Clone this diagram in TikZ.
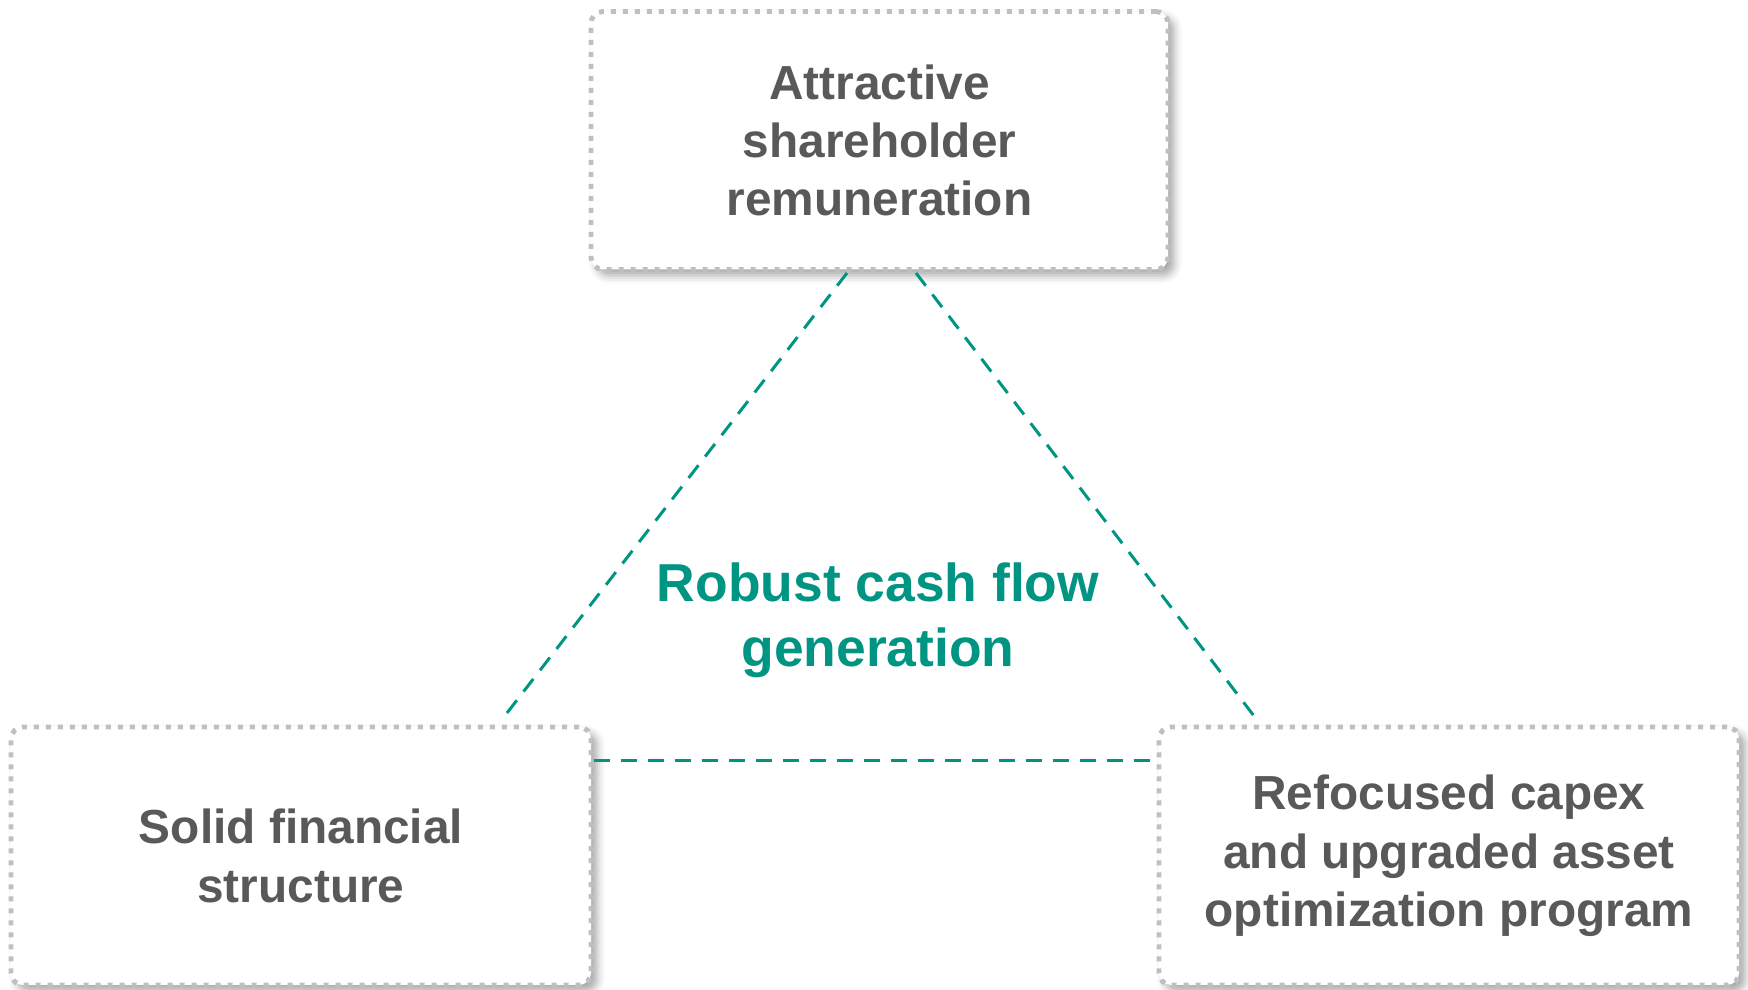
\documentclass[tikz,border=0pt]{standalone}
\usepackage{fontspec}
\setmainfont{Liberation Sans}
\usepackage{tikz}
\usetikzlibrary{calc,positioning,shadows.blur}
\definecolor{Ink}{HTML}{595959}
\definecolor{Frame}{HTML}{BFBFBF}
\definecolor{Teal}{HTML}{009482}
\tikzset{
  pillarbox/.style={rectangle,rounded corners=1.2mm,minimum width=5.77cm,minimum height=2.58cm,
    align=center,draw=Frame,line width=1.4pt,dash pattern=on 0.05cm off 0.07cm,fill=white,
    blur shadow={shadow xshift=0.6mm,shadow yshift=-0.6mm,shadow blur radius=0.8mm,shadow opacity=35},
    text=Ink,font=\fontsize{13.6}{16.6}\selectfont\bfseries},
  linkline/.style={draw=Teal,line width=0.85pt,dash pattern=on 0.16cm off 0.11cm},
}

\begin{document}
\begin{tikzpicture}[x=1cm,y=1cm]
  \useasboundingbox (0,0) rectangle (17.48,9.90);

  \node[pillarbox] (remun) at (8.795,8.495) {Attractive\\shareholder\\remuneration};
  \node[pillarbox,minimum width=5.80cm] (finance) at (3.01,1.34) {Solid financial\\structure};
  \node[pillarbox,minimum width=5.80cm] (capex) at (14.49,1.34) {Refocused capex\\and upgraded asset\\optimization program};

  \node[text=Teal,align=center,font=\fontsize{15.2}{18.4}\selectfont\bfseries] (cashflow) at (8.78,3.70) {Robust cash flow\\generation};

  \coordinate (topleft) at (8.47,7.17);
  \coordinate (topright) at (9.16,7.17);
  \coordinate (lowleft) at (5.07,2.77);
  \coordinate (lowright) at (12.54,2.74);
  \coordinate (baseleft) at (5.94,2.29);
  \coordinate (baseright) at (11.59,2.29);

  \draw[linkline] (topleft) -- (lowleft);
  \draw[linkline] (topright) -- (lowright);
  \draw[linkline] (baseleft) -- (baseright);
\end{tikzpicture}
\end{document}
